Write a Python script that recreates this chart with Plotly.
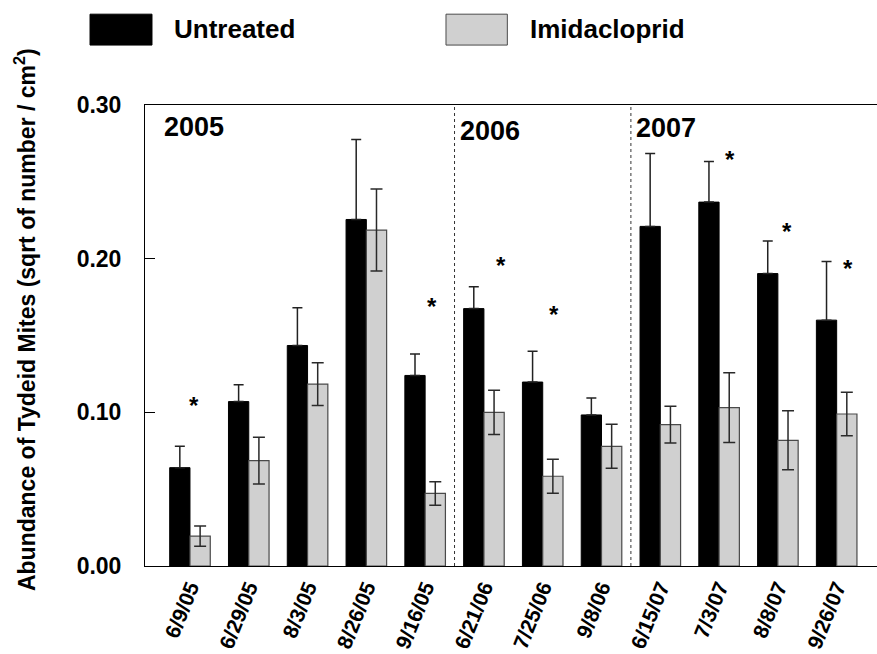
import plotly.graph_objects as go

# Sampling dates (three seasons)
dates = ["6/9/05", "6/29/05", "8/3/05", "8/26/05", "9/16/05",
         "6/21/06", "7/25/06", "9/8/06",
         "6/15/07", "7/3/07", "8/8/07", "9/26/07"]

# Mean abundance (sqrt of number / cm^2) and standard errors
untreated = [0.064, 0.107, 0.1435, 0.2255, 0.124, 0.1675, 0.1197, 0.0983,
             0.221, 0.2368, 0.1903, 0.160]
untreated_se = [0.014, 0.011, 0.0245, 0.052, 0.014, 0.0143, 0.020, 0.011,
                0.0474, 0.0264, 0.0212, 0.0382]
imidacloprid = [0.0195, 0.0686, 0.1184, 0.2186, 0.0472, 0.100, 0.0584, 0.0779,
                0.092, 0.103, 0.0818, 0.0989]
imidacloprid_se = [0.0066, 0.0152, 0.0139, 0.0267, 0.0076, 0.0144, 0.011, 0.0143,
                   0.012, 0.0227, 0.0192, 0.0142]

# Seasons: label and index of first date in each season
years = ["2005", "2006", "2007"]
year_first_index = [0, 5, 8]

FONT = "Arial, Liberation Sans, sans-serif"
BLACK = "#000000"
GREY = "#d0d0d0"

fig = go.Figure()
fig.add_bar(
    x=dates, y=untreated, name="Untreated",
    marker=dict(color=BLACK, line=dict(color=BLACK, width=1)),
    error_y=dict(type="data", symmetric=False, array=untreated_se,
                 arrayminus=[0] * len(untreated_se), visible=True,
                 color="#222222", thickness=1.5, width=5),
)
fig.add_bar(
    x=dates, y=imidacloprid, name="Imidacloprid",
    marker=dict(color=GREY, line=dict(color="#4a4a4a", width=1.2)),
    error_y=dict(type="data", array=imidacloprid_se, visible=True,
                 color="#2a2a2a", thickness=1.5, width=6),
)

# Dotted separators between seasons
for idx in year_first_index[1:]:
    fig.add_shape(type="line", xref="x", yref="y",
                  x0=idx - 0.5, x1=idx - 0.5, y0=0, y1=0.30,
                  line=dict(color="#333333", width=1, dash="dot"))

# Season labels
year_label_x = [-0.48, 4.564, 7.557]
year_label_y = [0.286, 0.283, 0.285]
for label, xv, yv in zip(years, year_label_x, year_label_y):
    fig.add_annotation(x=xv, y=yv, xref="x", yref="y", text=label,
                       showarrow=False, xanchor="left", yanchor="middle",
                       font=dict(family=FONT, size=27, color=BLACK, weight="bold"))

# Significance asterisks
star_x = [0.073, 4.121, 5.29, 6.19, 9.18, 10.16, 11.2]
star_y = [0.108, 0.172, 0.199, 0.167, 0.2675, 0.221, 0.197]
for xv, yv in zip(star_x, star_y):
    fig.add_annotation(x=xv, y=yv, xref="x", yref="y", text="*",
                       showarrow=False, xanchor="center", yanchor="middle",
                       yshift=-5,
                       font=dict(family=FONT, size=24, color=BLACK, weight="bold"))

# Legend drawn as swatches and labels above the plot
legend_items = [("Untreated", BLACK, BLACK, -0.0751, 0.00956, 0.0367),
                ("Imidacloprid", GREY, "#4a4a4a", 0.4112, 0.4950, 0.5232)]
for name, fill, edge, x0, x1, xt in legend_items:
    fig.add_shape(type="rect", xref="paper", yref="paper",
                  x0=x0, x1=x1, y0=1.130, y1=1.197,
                  fillcolor=fill, line=dict(color=edge, width=1))
    fig.add_annotation(x=xt, y=1.1645, xref="paper", yref="paper", text=name,
                       showarrow=False, xanchor="left", yanchor="middle",
                       font=dict(family=FONT, size=26, color=BLACK, weight="bold"))

# Y-axis title
fig.add_annotation(x=-0.1639, y=0.5336, xref="paper", yref="paper",
                   text="Abundance of Tydeid Mites (sqrt of number / cm<sup>2</sup>)",
                   textangle=-90, showarrow=False, xanchor="center", yanchor="middle",
                   font=dict(family=FONT, size=23, color=BLACK, weight="bold"))

fig.update_layout(
    width=877, height=654,
    margin=dict(l=145, r=0, t=105, b=88),
    barmode="group", bargap=0.31, bargroupgap=0,
    plot_bgcolor="white", paper_bgcolor="white",
    showlegend=False,
    font=dict(family=FONT, color=BLACK),
)
fig.update_xaxes(
    type="category", range=[-0.765, 11.686], automargin=False,
    showline=True, linecolor=BLACK, linewidth=1, mirror=True,
    ticks="", showgrid=False, tickangle=-68, ticklabelstandoff=0,
    tickfont=dict(family=FONT, size=21, color=BLACK, weight="bold"),
)
fig.update_yaxes(
    range=[0, 0.30], tickvals=[0, 0.1, 0.2, 0.3], tickformat=".2f",
    automargin=False,
    showline=True, linecolor=BLACK, linewidth=1, mirror=True,
    ticks="inside", ticklen=10, tickcolor=BLACK, tickwidth=1,
    showgrid=False, zeroline=False, ticklabelstandoff=18,
    tickfont=dict(family=FONT, size=23, color=BLACK, weight="bold"),
)

fig.write_html("out.html")
